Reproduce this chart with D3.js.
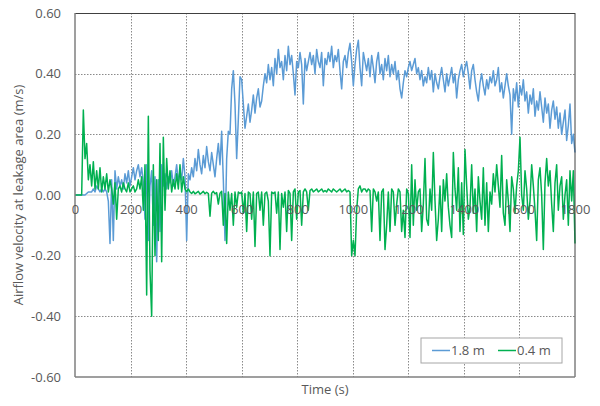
<!DOCTYPE html>
<html>
<head>
<meta charset="utf-8">
<script src="https://cdn.jsdelivr.net/npm/d3@7"></script>
<style>
  body { margin: 0; background: #fff; }
  text { font-family: "Open Sans", "Noto Sans", sans-serif; fill: #595959; }
</style>
</head>
<body>
<div id="chart"></div>
<script>
// Sample interval of the series (s)
const step = 6;

// 1.8 m series, one value every 6 s from 0 to 1800 s
const v18 = [
  0, 0, 0, 0, 0, 0, 0, 0.005, 0.01, 0.01,
  0.01, 0.02, 0.01, 0.03, 0.02, 0.01, 0.02, 0.01, 0.02, 0.01,
  -0.02, -0.16, 0.05, -0.15, 0.08, 0.02, 0.06, 0.03, 0.05, 0.02,
  0.07, 0.04, 0.08, 0.03, 0.06, 0.09, 0.05, 0.08, 0.1, 0.06,
  0.09, 0.04, -0.08, 0.1, -0.15, 0.03, 0.08, -0.1, 0.06, -0.22,
  0.05, -0.12, 0.1, 0.03, 0.07, 0.02, 0.06, 0.04, 0.08, 0.03,
  0.06, 0.1, 0.04, 0.08, 0.05, 0.12, 0.06, -0.15, 0.07, 0.05,
  0.09, 0.06, 0.12, 0.08, 0.15, 0.1, 0.07, 0.13, 0.09, 0.16,
  0.11, 0.08, 0.14, 0.1, 0.06, 0.12, 0.17, 0.1, 0.21, 0.05,
  -0.15, 0.12, 0.21, 0.2, 0.35, 0.41, 0.3, 0.12, 0.25, 0.39,
  0.38, 0.3, 0.22, 0.26, 0.3, 0.24, 0.28, 0.33, 0.27, 0.32,
  0.35, 0.29, 0.31, 0.36, 0.4, 0.37, 0.43, 0.38, 0.42, 0.36,
  0.45, 0.4, 0.48, 0.42, 0.44, 0.38, 0.46, 0.41, 0.49, 0.43,
  0.46, 0.4, 0.33, 0.44, 0.42, 0.47, 0.43, 0.3, 0.45, 0.41,
  0.44, 0.47, 0.43, 0.46, 0.4, 0.48, 0.44, 0.42, 0.47, 0.36,
  0.45, 0.43, 0.47, 0.44, 0.49, 0.42, 0.46, 0.44, 0.48, 0.41,
  0.35, 0.44, 0.46, 0.42, 0.47, 0.5, 0.44, 0.36, 0.43, 0.48,
  0.51, 0.42, 0.36, 0.47, 0.44, 0.41, 0.45, 0.39, 0.46, 0.42,
  0.37, 0.44, 0.47, 0.4, 0.43, 0.38, 0.45, 0.41, 0.46, 0.39,
  0.43, 0.4, 0.44, 0.38, 0.41, 0.35, 0.32, 0.37, 0.41, 0.39,
  0.42, 0.44, 0.41, 0.43, 0.45, 0.4, 0.42, 0.38, 0.41, 0.36,
  0.39, 0.37, 0.42, 0.38, 0.41, 0.34, 0.4, 0.37, 0.35, 0.39,
  0.42, 0.38, 0.34, 0.4, 0.36, 0.39, 0.42, 0.37, 0.4, 0.32,
  0.38, 0.41, 0.43, 0.39, 0.42, 0.44, 0.4, 0.35, 0.41, 0.43,
  0.38, 0.34, 0.31, 0.37, 0.4, 0.36, 0.33, 0.38, 0.35, 0.39,
  0.37, 0.41, 0.36, 0.38, 0.42, 0.34, 0.37, 0.32, 0.36, 0.4,
  0.36, 0.33, 0.2, 0.35, 0.31, 0.37, 0.29, 0.36, 0.33, 0.38,
  0.31, 0.34, 0.27, 0.33, 0.3, 0.35, 0.26, 0.31, 0.28, 0.34,
  0.29, 0.24, 0.32, 0.27, 0.3, 0.22, 0.28, 0.31, 0.25, 0.29,
  0.22, 0.27, 0.2, 0.24, 0.28, 0.18, 0.23, 0.3, 0.17, 0.2,
  0.14
];

// 0.4 m series, same time base
const v04 = [
  0, 0, 0, 0, 0, 0.28, 0.12, 0.17, 0.05, 0.1,
  0.03, 0.11, 0.02, 0.08, 0.02, 0.09, 0.01, 0.06, 0.02, 0.07,
  0.01, 0.05, 0.02, -0.03, 0.04, -0.08, 0.02, 0.03, 0.01, 0.04,
  0.02, 0.01, 0.04, 0.01, 0.02, 0.03, 0.01, 0.02, 0.05, 0.02,
  0.06, -0.05, 0.1, -0.33, 0.26, -0.25, -0.4, 0.1, -0.2, 0.05,
  -0.15, 0.17, -0.22, 0.19, -0.05, 0.12, 0.02, 0.08, 0.01, 0.05,
  0.02, 0.07, 0.02, 0.1, 0.01, 0.06, 0.02, 0.01, 0.02, 0.01,
  0.005, 0.012, 0.004, 0.008, 0.012, 0.003, 0.007, 0.012, 0.004, 0.009,
  0.005, -0.07, 0.006, 0.012, 0.004, 0.008, -0.03, 0.006, 0.012, -0.1,
  0.005, -0.16, 0.01, -0.05, 0.005, -0.1, 0.01, -0.04, 0.01, 0.005,
  0.01, -0.06, 0.005, -0.12, 0.01, 0.005, -0.08, 0.01, -0.17, 0.005,
  0.01, -0.05, 0.01, -0.1, 0.005, 0.01, -0.02, -0.2, 0.01, 0.005,
  0.01, -0.06, 0.01, -0.18, 0.005, -0.04, 0.01, -0.12, 0.015, 0.005,
  -0.15, 0.01, 0.02, -0.08, 0.01, 0.015, -0.1, 0.01, 0.02, 0.01,
  -0.05, 0.015, 0.02, 0.01, 0.015, 0.02, 0.01, 0.015, 0.02, 0.01,
  0.015, 0.01, 0.02, 0.015, 0.01, 0.02, 0.015, 0.01, 0.015, 0.02,
  0.01, 0.015, 0.02, 0.01, 0.015, 0.01, -0.2, -0.15, -0.2, -0.05,
  0.02, 0.03, 0.01, 0.02, 0.02, 0.01, 0.02, 0.015, -0.12, 0.02,
  0.01, -0.02, 0.01, -0.15, 0.01, 0.02, -0.18, -0.1, 0.01, -0.12,
  0.02, 0.01, -0.1, -0.03, 0.02, 0.01, -0.12, -0.05, -0.14, 0.02,
  0.005, -0.14, 0.1, -0.1, 0.05, -0.05, 0.01, 0.02, -0.12, -0.03,
  0.12, -0.08, -0.1, 0.02, -0.05, 0.14, -0.02, -0.15, -0.08, 0.03,
  -0.12, 0.05, -0.02, 0.07, -0.04, -0.1, -0.14, 0.14, 0.02, -0.05,
  0.09, -0.12, 0.04, -0.13, 0.15, 0.03, -0.08, -0.04, 0.1, -0.06,
  0.02, -0.12, 0.06, -0.02, -0.08, 0.09, -0.1, 0.04, -0.12, 0.01,
  -0.03, 0.07, 0.01, 0.1, 0.03, -0.04, 0.13, -0.06, -0.1, 0.05,
  -0.02, -0.12, 0.06, 0.02, -0.06, 0.03, 0.08, 0.19, 0.0, -0.05,
  0.08, 0.02, -0.08, -0.02, 0.1, 0.03, -0.05, -0.15, 0.05, 0.09,
  0.0, -0.18, 0.04, 0.12, 0.03, 0.08, -0.03, -0.12, 0.04, 0.1,
  -0.05, 0.03, 0.06, -0.08, 0.0, 0.05, -0.1, 0.08, -0.02, 0.08,
  -0.16
];

const xTicks = [0, 200, 400, 600, 800, 1000, 1200, 1400, 1600, 1800];
const yTicks = [-0.6, -0.4, -0.2, 0, 0.2, 0.4, 0.6];
const seriesNames = ["1.8 m", "0.4 m"];
const seriesColors = ["#5b9bd5", "#00b050"];

// Set the dimensions and margins of the graph
const margin = { top: 13, right: 25, bottom: 29, left: 75 },
    width = 600 - margin.left - margin.right,
    height = 406 - margin.top - margin.bottom;

const svg = d3.select("#chart")
    .append("svg")
    .attr("width", 600)
    .attr("height", 406)
    .append("g")
    .attr("transform", `translate(${margin.left},${margin.top})`);

const x = d3.scaleLinear().domain([0, 1800]).range([0, width]);
const y = d3.scaleLinear().domain([-0.6, 0.6]).range([height, 0]);

// Excel style labels use a plain hyphen for negatives
const fmtY = d => d3.format(".2f")(d).replace("\u2212", "-");

// Dotted gridlines
svg.append("g")
    .selectAll("line")
    .data(xTicks.slice(1, -1))
    .join("line")
    .attr("x1", d => Math.round(x(d)) + 0.5).attr("x2", d => Math.round(x(d)) + 0.5)
    .attr("y1", 0).attr("y2", height)
    .attr("stroke", "#8a8a8a")
    .attr("stroke-width", 1)
    .attr("stroke-dasharray", "1.5,1.5");

svg.append("g")
    .selectAll("line")
    .data(yTicks.filter(d => d !== 0 && Math.abs(d) < 0.6))
    .join("line")
    .attr("x1", 0).attr("x2", width)
    .attr("y1", d => Math.round(y(d)) + 0.5).attr("y2", d => Math.round(y(d)) + 0.5)
    .attr("stroke", "#8a8a8a")
    .attr("stroke-width", 1)
    .attr("stroke-dasharray", "1.5,1.5");

// Horizontal axis line at zero
svg.append("line")
    .attr("x1", 0).attr("x2", width)
    .attr("y1", y(0)).attr("y2", y(0))
    .attr("stroke", "#d0d0d0")
    .attr("stroke-width", 1);

// Series lines
const series = [v18, v04];
series.forEach((vals, i) => {
    const line = d3.line()
        .x((d, j) => x(j * step))
        .y(d => y(d));
    svg.append("path")
        .datum(vals)
        .attr("fill", "none")
        .attr("stroke", seriesColors[i])
        .attr("stroke-width", 1.5)
        .attr("stroke-linejoin", "round")
        .attr("d", line);
});

// Plot area border
svg.append("line").attr("x1", 0).attr("x2", width).attr("y1", 0.5).attr("y2", 0.5)
    .attr("stroke", "#404040").attr("stroke-width", 1);
svg.append("line").attr("x1", width).attr("x2", width).attr("y1", 0).attr("y2", height)
    .attr("stroke", "#404040").attr("stroke-width", 1);
svg.append("line").attr("x1", 0).attr("x2", width).attr("y1", height).attr("y2", height)
    .attr("stroke", "#7f7f7f").attr("stroke-width", 1.5);
svg.append("line").attr("x1", 0).attr("x2", 0).attr("y1", 0).attr("y2", height)
    .attr("stroke", "#7f7f7f").attr("stroke-width", 1.5);

// Y axis tick labels
const yAxis = svg.append("g")
    .call(d3.axisLeft(y).tickValues(yTicks).tickFormat(fmtY).tickSize(0).tickPadding(14));
yAxis.select(".domain").remove();
yAxis.selectAll("text")
    .style("font-size", "13px")
    .style("fill", "#595959")
    .style("font-family", "Open Sans, Noto Sans, sans-serif");

// X axis tick labels sitting on the zero line
const xAxis = svg.append("g")
    .attr("transform", `translate(0,${y(0)})`)
    .call(d3.axisBottom(x).tickValues(xTicks).tickFormat(d3.format("d")).tickSize(0).tickPadding(10));
xAxis.select(".domain").remove();
xAxis.selectAll("text")
    .style("font-size", "13px")
    .style("fill", "#595959")
    .style("font-family", "Open Sans, Noto Sans, sans-serif");

// Axis titles
svg.append("text")
    .attr("x", width / 2)
    .attr("y", height + 17)
    .attr("text-anchor", "middle")
    .style("font-size", "13px")
    .text("Time (s)");

svg.append("text")
    .attr("transform", "rotate(-90)")
    .attr("x", -height / 2)
    .attr("y", -margin.left + 23)
    .attr("text-anchor", "middle")
    .style("font-size", "13px")
    .text("Airflow velocity at leakage area (m/s)");

// Legend
const legend = svg.append("g")
    .attr("transform", `translate(${width - 154},${height - 39})`);
legend.append("rect")
    .attr("width", 141).attr("height", 25)
    .attr("fill", "#fff")
    .attr("stroke", "#a6a6a6");
seriesNames.forEach((name, i) => {
    const g = legend.append("g").attr("transform", `translate(${11 + i * 66},12.5)`);
    g.append("line").attr("x1", 0).attr("x2", 18).attr("y1", 0).attr("y2", 0)
        .attr("stroke", seriesColors[i]).attr("stroke-width", 1.5);
    g.append("text").attr("x", 19).attr("y", 4.5)
        .style("font-size", "13px")
        .text(name);
});
</script>
</body>
</html>
